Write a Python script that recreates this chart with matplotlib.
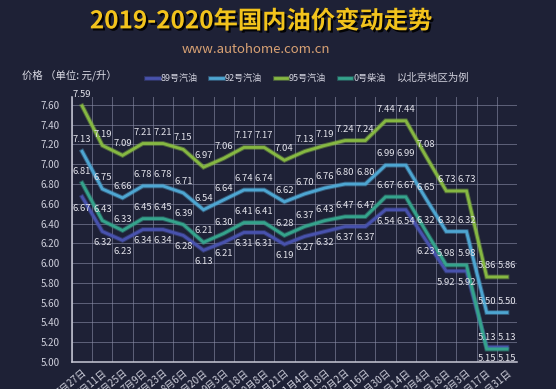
import numpy as np
import matplotlib.pyplot as plt
import matplotlib.patheffects as pe

plt.rcParams['font.family'] = ['Noto Sans CJK SC', 'DejaVu Sans']

# data (Beijing, yuan per litre)
dates = ['5月27日', '6月11日', '6月25日', '7月9日', '7月23日', '8月6日', '8月20日',
         '9月3日', '9月18日', '10月8日', '10月21日', '11月4日', '11月18日', '12月2日',
         '12月16日', '12月30日', '1月14日', '2月4日', '2月18日', '3月3日', '3月17日', '3月31日']
gas89 = [6.67, 6.32, 6.23, 6.34, 6.34, 6.28, 6.13, 6.21, 6.31, 6.31, 6.19,
         6.27, 6.32, 6.37, 6.37, 6.54, 6.54, 6.23, 5.92, 5.92, 5.15, 5.15]
gas92 = [7.13, 6.75, 6.66, 6.78, 6.78, 6.71, 6.54, 6.64, 6.74, 6.74, 6.62,
         6.70, 6.76, 6.80, 6.80, 6.99, 6.99, 6.65, 6.32, 6.32, 5.50, 5.50]
gas95 = [7.59, 7.19, 7.09, 7.21, 7.21, 7.15, 6.97, 7.06, 7.17, 7.17, 7.04,
         7.13, 7.19, 7.24, 7.24, 7.44, 7.44, 7.08, 6.73, 6.73, 5.86, 5.86]
diesel0 = [6.81, 6.43, 6.33, 6.45, 6.45, 6.39, 6.21, 6.30, 6.41, 6.41, 6.28,
           6.37, 6.43, 6.47, 6.47, 6.67, 6.67, 6.32, 5.98, 5.98, 5.13, 5.13]

bg = '#1e2136'
fig = plt.figure(figsize=(5.56, 3.89), dpi=100, facecolor=bg)
ax = fig.add_axes([0.1295, 0.0694, 0.8005, 0.6812], facecolor=bg)

x = np.arange(len(dates))
series = [
    ('89号汽油', gas89, '#4852ad', -1),
    ('92号汽油', gas92, '#4ea6d2', 1),
    ('95号汽油', gas95, '#86b842', 1),
    ('0号柴油', diesel0, '#35a38c', 1),
]
lines = []
for name, vals, col, side in series:
    ln, = ax.plot(x, vals, color=col, lw=2.0, label=name, solid_joinstyle='miter',
                  path_effects=[pe.Stroke(linewidth=3.4, foreground=col, alpha=0.45), pe.Normal()])
    lines.append(ln)
    for xi, v in zip(x, vals):
        ax.annotate(f'{v:.2f}', (xi, v), xytext=(0, 5 * side), textcoords='offset points',
                    ha='center', va='bottom' if side > 0 else 'top',
                    fontsize=6.8, color='#e4e4ec')

ax.set_xlim(-0.5, len(dates) - 0.5)
ax.set_ylim(5.0, 7.68)
ax.set_yticks(np.arange(5.0, 7.61, 0.2))
ax.set_yticklabels([f'{t:.2f}' for t in np.arange(5.0, 7.61, 0.2)])
ax.set_xticks(x)
ax.set_xticklabels(dates, rotation=40, ha='right', rotation_mode='anchor')
ax.set_xticks(np.arange(-0.5, len(dates), 1), minor=True)
ax.tick_params(axis='both', which='both', length=0, colors='#cfd0dc', labelsize=7)
ax.tick_params(axis='x', pad=4)
ax.tick_params(axis='y', pad=9)
ax.grid(axis='x', which='minor', color='#8a8ca6', lw=0.7, alpha=0.6)
ax.grid(axis='y', which='major', color='#8a8ca6', lw=0.7, alpha=0.6)
for s in ['top', 'right']:
    ax.spines[s].set_visible(False)
for s in ['left', 'bottom']:
    ax.spines[s].set_color('#c8c9d6')
    ax.spines[s].set_linewidth(1.1)

fig.text(0.469, 0.945, '2019-2020年国内油价变动走势', ha='center', va='center',
         fontsize=17.5, fontweight='bold', color='#f2c31c',
         path_effects=[pe.withSimplePatchShadow(offset=(1.5, -1.5), shadow_rgbFace='black', alpha=0.9)])
fig.text(0.461, 0.872, 'www.autohome.com.cn', ha='center', va='center',
         fontsize=9.5, color='#d9a274')
fig.text(0.04, 0.807, '价格 （单位: 元/升）', ha='left', va='center', fontsize=7.5, color='#dcdce6')
fig.text(0.714, 0.8, '以北京地区为例', ha='left', va='center', fontsize=7.5, color='#d0d0dc')

leg = fig.legend(handles=lines, loc='center', bbox_to_anchor=(0.478, 0.797), ncol=4,
                 frameon=False, fontsize=6.5, handlelength=1.4, handletextpad=0.2,
                 columnspacing=1.4, labelcolor='#d4d4e0')

fig.savefig('out.png', dpi=100, facecolor=bg)
